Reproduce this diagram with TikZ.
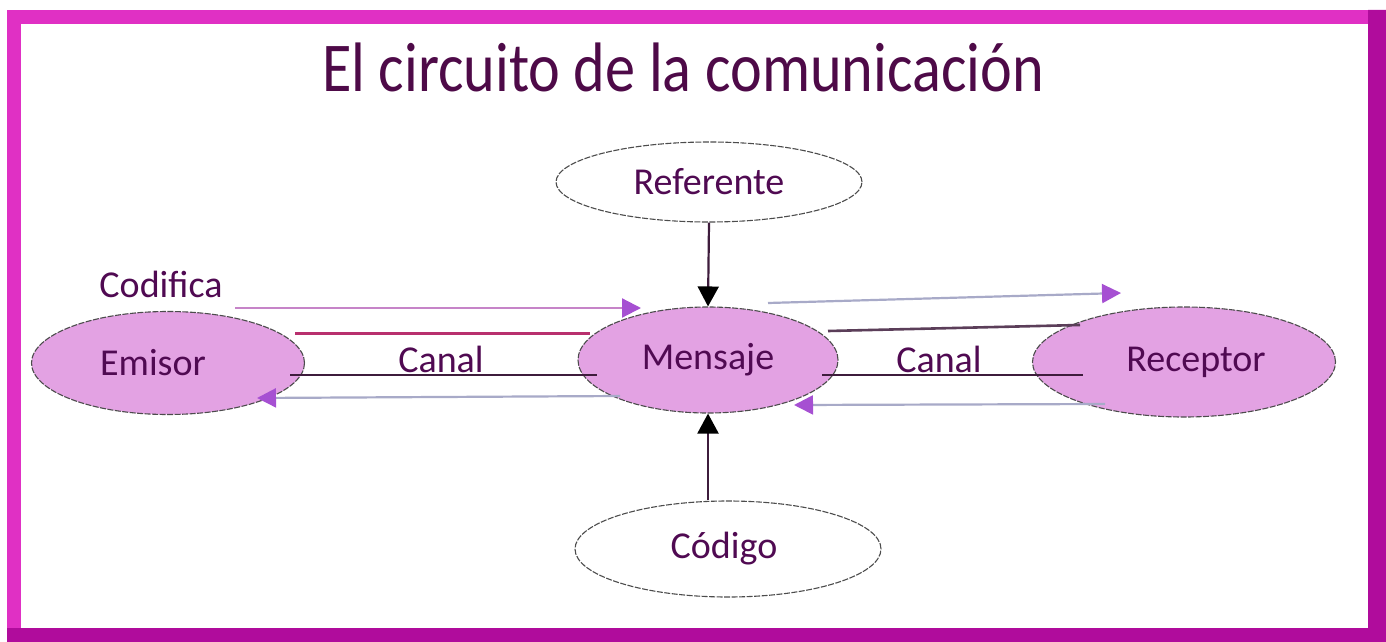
\documentclass[tikz,border=0pt]{standalone}
\usepackage{fontspec}
\setmainfont{Carlito}
\usetikzlibrary{shapes.geometric,arrows.meta,calc}
\definecolor{frameA}{HTML}{E030C4}
\definecolor{frameB}{HTML}{B00C9C}
\definecolor{txt}{HTML}{4E0A48}
\definecolor{lbl}{HTML}{500A52}
\definecolor{efill}{HTML}{E3A2E3}
\definecolor{tipc}{HTML}{A650D2}
\definecolor{pinkline}{HTML}{C684C8}
\definecolor{redline}{HTML}{B8306E}
\definecolor{darkline}{HTML}{3E1C3C}
\definecolor{greyline}{HTML}{A8AAC8}
\tikzset{
  x=1pt,y=-1pt,
  ell/.style={ellipse,draw=gray!60!black,line width=1.1pt,dash pattern=on 6pt off 1.5pt,inner sep=0pt,
    font=\fontsize{38}{40}\selectfont,text=lbl},
  filled/.style={ell,fill=efill},
  plain/.style={ell,fill=white},
  lab/.style={font=\fontsize{38}{40}\selectfont,text=lbl,inner sep=0pt,anchor=base},
  parrow/.style={line width=2.2pt,-{Triangle[length=19pt,width=19pt,color=tipc]}},
  karrow/.style={line width=2.2pt,draw=darkline,-{Triangle[length=20pt,width=21pt,color=black]}},
}
\begin{document}
\begin{tikzpicture}
\useasboundingbox (0,0) rectangle (1386,642);
% frame
\fill[frameA] (7,10) rectangle (1386,642);
\fill[frameB] (1368,10) -- (1386,10) -- (1386,642) -- (7,642) -- (7,628) -- (1368,628) -- cycle;
\fill[white] (21,24) rectangle (1368,628);
% title
\node[inner sep=0pt,anchor=base,text=txt,xscale=0.86] (title) at (683,92) {\fontsize{70}{72}\selectfont El circuito de la comunicación};
% ellipses
\node[filled,minimum width=273,minimum height=103] (emi) at (168,363) {Emisor\hspace*{30pt}};
\node[filled,minimum width=260,minimum height=106] (men) at (708,360) {Mensaje};
\node[filled,minimum width=303,minimum height=110] (rec) at (1184,362) {\hspace*{24pt}Receptor};
\node[plain,minimum width=306,minimum height=80] (ref) at (709,182) {Referente};
\node[plain,minimum width=306,minimum height=96] (cod) at (728,549) {Código\hspace*{8pt}};
% labels
\node[lab] (codif) at (161,297) {Codifica};
\node[lab] (canal1) at (441,372) {Canal};
\node[lab] (canal2) at (939,372) {Canal};
% connector ends
\coordinate (c1s) at (235,308); \coordinate (c1e) at (641,308);
\coordinate (r1s) at (295,333); \coordinate (r1e) at (590,333);
\coordinate (d1s) at (290,375); \coordinate (d1e) at (597,375);
\coordinate (b1s) at (620,396); \coordinate (b1e) at (257,398);
\coordinate (c2s) at (768,303); \coordinate (c2e) at (1121,293);
\coordinate (r2s) at (828,331); \coordinate (r2e) at (1080,325);
\coordinate (d2s) at (822,375); \coordinate (d2e) at (1083,375);
\coordinate (b2s) at (1105,404); \coordinate (b2e) at (794,405);
% connectors left
\draw[parrow,draw=pinkline] (c1s) -- (c1e);
\draw[line width=3pt,draw=redline] (r1s) -- (r1e);
\draw[line width=2.4pt,draw=darkline] (d1s) -- (d1e);
\draw[parrow,draw=greyline] (b1s) -- (b1e);
% connectors right
\draw[parrow,draw=greyline] (c2s) -- (c2e);
\draw[line width=2.6pt,draw=darkline!85] (r2s) -- (r2e);
\draw[line width=2.4pt,draw=darkline] (d2s) -- (d2e);
\draw[parrow,draw=greyline] (b2s) -- (b2e);
% vertical
\draw[karrow] (ref.south) -- (men.north);
\draw[karrow] (cod.north -| men.south) -- (men.south);
\end{tikzpicture}
\end{document}
